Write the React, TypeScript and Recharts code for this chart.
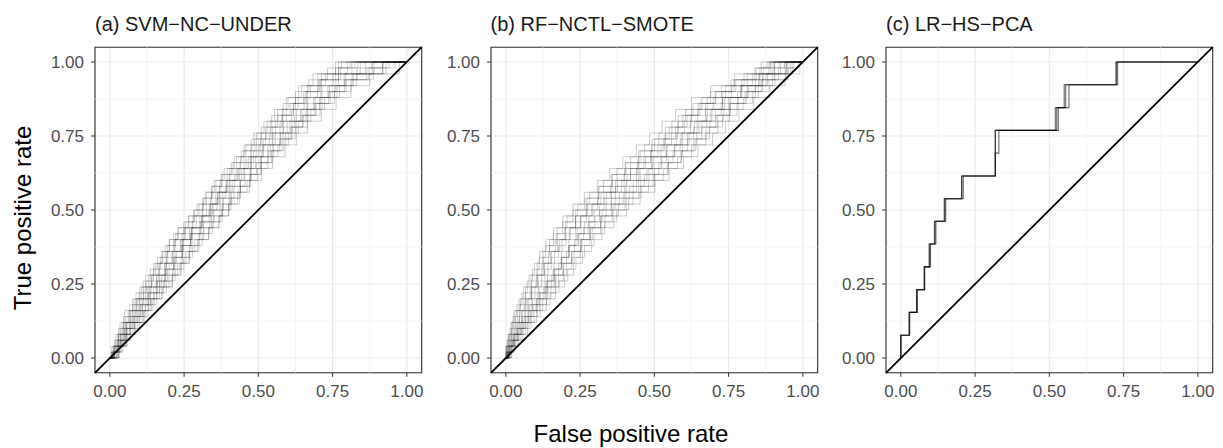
import { CartesianGrid, Line, LineChart, ReferenceArea, ReferenceLine, XAxis, YAxis } from "recharts";

const FONT = "'Liberation Sans', Arial, Helvetica, sans-serif";

// tpr levels reached at each step (two sets of bootstrap test splits)
const TPR_STEPS = [
  0, 0.04, 0.08, 0.12, 0.16, 0.2, 0.24, 0.28, 0.32, 0.36, 0.4, 0.44, 0.48, 0.52, 0.56, 0.6, 0.64, 0.68,
  0.72, 0.76, 0.8, 0.84, 0.88, 0.92, 0.96, 1,
];
const TPR_STEPS_ALT = [
  0, 0.02, 0.06, 0.1, 0.14, 0.18, 0.22, 0.26, 0.3, 0.34, 0.38, 0.42, 0.46, 0.5, 0.54, 0.58, 0.62, 0.66,
  0.7, 0.74, 0.78, 0.82, 0.86, 0.9, 0.94, 0.98, 1,
];

// (a) SVM-NC-UNDER: fpr at which each curve climbs to the matching tpr level
const SVM_FPR = [
  [0, 0.006, 0.02, 0.034, 0.05, 0.077, 0.101, 0.12, 0.148, 0.175, 0.2, 0.228, 0.266, 0.3, 0.325, 0.357, 0.395, 0.427, 0.458, 0.494, 0.53, 0.565, 0.6, 0.646, 0.7, 0.77],
  [0, 0.03, 0.056, 0.085, 0.113, 0.14, 0.174, 0.21, 0.236, 0.266, 0.295, 0.332, 0.368, 0.4, 0.437, 0.47, 0.511, 0.548, 0.59, 0.629, 0.665, 0.712, 0.762, 0.812, 0.875, 0.975],
  [0, 0.022, 0.04, 0.058, 0.088, 0.11, 0.136, 0.168, 0.19, 0.22, 0.245, 0.275, 0.314, 0.344, 0.37, 0.405, 0.444, 0.475, 0.515, 0.549, 0.585, 0.628, 0.666, 0.714, 0.77, 0.86],
  [0, 0.014, 0.03, 0.05, 0.07, 0.092, 0.12, 0.142, 0.168, 0.195, 0.217, 0.25, 0.28, 0.313, 0.343, 0.371, 0.404, 0.44, 0.478, 0.509, 0.54, 0.581, 0.625, 0.665, 0.712, 0.8],
  [0, 0.026, 0.05, 0.07, 0.101, 0.13, 0.158, 0.185, 0.216, 0.245, 0.273, 0.303, 0.342, 0.378, 0.406, 0.44, 0.476, 0.51, 0.551, 0.592, 0.627, 0.667, 0.714, 0.765, 0.82, 0.918],
  [0, 0.016, 0.035, 0.054, 0.078, 0.1, 0.128, 0.157, 0.186, 0.211, 0.24, 0.274, 0.31, 0.347, 0.38, 0.412, 0.452, 0.49, 0.532, 0.575, 0.614, 0.66, 0.706, 0.757, 0.816, 0.92],
  [0, 0.024, 0.045, 0.067, 0.094, 0.119, 0.147, 0.174, 0.2, 0.225, 0.248, 0.277, 0.31, 0.338, 0.364, 0.394, 0.425, 0.459, 0.493, 0.525, 0.558, 0.594, 0.634, 0.675, 0.726, 0.815],
  [0, 0.01, 0.026, 0.041, 0.062, 0.082, 0.106, 0.131, 0.154, 0.178, 0.201, 0.231, 0.264, 0.294, 0.321, 0.351, 0.385, 0.419, 0.452, 0.485, 0.519, 0.555, 0.594, 0.636, 0.684, 0.76],
  [0, 0.029, 0.053, 0.078, 0.108, 0.136, 0.168, 0.199, 0.228, 0.256, 0.286, 0.317, 0.35, 0.38, 0.41, 0.44, 0.473, 0.506, 0.54, 0.573, 0.606, 0.647, 0.691, 0.739, 0.794, 0.89],
  [0, 0.018, 0.037, 0.056, 0.082, 0.105, 0.132, 0.159, 0.185, 0.209, 0.237, 0.268, 0.303, 0.335, 0.363, 0.395, 0.43, 0.466, 0.502, 0.537, 0.573, 0.612, 0.654, 0.699, 0.752, 0.843],
  [0, 0.032, 0.058, 0.084, 0.116, 0.145, 0.178, 0.21, 0.24, 0.269, 0.3, 0.333, 0.367, 0.4, 0.43, 0.462, 0.497, 0.532, 0.566, 0.601, 0.635, 0.677, 0.723, 0.773, 0.831, 0.93],
  [0, 0.013, 0.029, 0.046, 0.068, 0.089, 0.114, 0.14, 0.165, 0.19, 0.22, 0.254, 0.291, 0.325, 0.357, 0.392, 0.434, 0.477, 0.517, 0.557, 0.597, 0.642, 0.686, 0.734, 0.789, 0.883],
];
const SVM_FPR_ALT = [
  [0, 0.006, 0.02, 0.035, 0.054, 0.076, 0.098, 0.123, 0.147, 0.17, 0.194, 0.222, 0.254, 0.285, 0.314, 0.343, 0.375, 0.409, 0.443, 0.476, 0.51, 0.545, 0.584, 0.625, 0.67, 0.733, 0.78],
  [0, 0.014, 0.04, 0.065, 0.092, 0.12, 0.15, 0.181, 0.211, 0.24, 0.268, 0.3, 0.336, 0.371, 0.402, 0.435, 0.471, 0.509, 0.547, 0.586, 0.624, 0.665, 0.708, 0.757, 0.812, 0.887, 0.94],
  [0, 0.011, 0.033, 0.054, 0.078, 0.104, 0.131, 0.16, 0.188, 0.215, 0.242, 0.272, 0.307, 0.34, 0.371, 0.402, 0.437, 0.473, 0.51, 0.547, 0.583, 0.622, 0.664, 0.71, 0.761, 0.832, 0.883],
  [0, 0.008, 0.026, 0.044, 0.065, 0.088, 0.113, 0.139, 0.165, 0.19, 0.215, 0.244, 0.277, 0.31, 0.339, 0.369, 0.402, 0.438, 0.473, 0.508, 0.543, 0.579, 0.619, 0.663, 0.711, 0.777, 0.826],
  [0, 0.016, 0.044, 0.07, 0.099, 0.128, 0.158, 0.19, 0.22, 0.249, 0.279, 0.311, 0.345, 0.378, 0.408, 0.44, 0.474, 0.509, 0.544, 0.58, 0.613, 0.65, 0.69, 0.737, 0.79, 0.865, 0.918],
  [0, 0.004, 0.015, 0.029, 0.046, 0.066, 0.088, 0.112, 0.136, 0.16, 0.186, 0.215, 0.249, 0.282, 0.313, 0.344, 0.378, 0.415, 0.451, 0.488, 0.525, 0.565, 0.607, 0.653, 0.703, 0.77, 0.835],
  [0, 0.012, 0.036, 0.058, 0.083, 0.11, 0.137, 0.167, 0.194, 0.219, 0.244, 0.272, 0.304, 0.334, 0.361, 0.389, 0.42, 0.452, 0.484, 0.516, 0.548, 0.582, 0.618, 0.66, 0.707, 0.76, 0.81],
  [0, 0.01, 0.029, 0.049, 0.072, 0.098, 0.126, 0.156, 0.186, 0.215, 0.244, 0.277, 0.315, 0.35, 0.383, 0.418, 0.455, 0.494, 0.533, 0.572, 0.61, 0.65, 0.694, 0.742, 0.796, 0.872, 0.96],
];

// (b) RF-NCTL-SMOTE
const RF_FPR = [
  [0, 0, 0.007, 0.017, 0.027, 0.044, 0.06, 0.078, 0.096, 0.114, 0.135, 0.16, 0.192, 0.226, 0.264, 0.308, 0.35, 0.394, 0.439, 0.484, 0.526, 0.571, 0.625, 0.69, 0.77, 0.86],
  [0, 0.02, 0.043, 0.073, 0.103, 0.136, 0.168, 0.198, 0.228, 0.258, 0.289, 0.324, 0.364, 0.406, 0.452, 0.502, 0.55, 0.598, 0.647, 0.696, 0.74, 0.785, 0.835, 0.89, 0.94, 0.99],
  [0, 0.01, 0.026, 0.044, 0.066, 0.09, 0.112, 0.14, 0.162, 0.188, 0.212, 0.24, 0.28, 0.316, 0.356, 0.405, 0.452, 0.496, 0.54, 0.59, 0.635, 0.678, 0.73, 0.79, 0.855, 0.925],
  [0, 0.005, 0.016, 0.031, 0.046, 0.067, 0.087, 0.108, 0.129, 0.15, 0.174, 0.201, 0.235, 0.271, 0.311, 0.357, 0.4, 0.445, 0.491, 0.537, 0.58, 0.625, 0.678, 0.74, 0.813, 0.893],
  [0, 0.015, 0.034, 0.059, 0.084, 0.113, 0.141, 0.168, 0.195, 0.222, 0.251, 0.283, 0.321, 0.361, 0.405, 0.454, 0.5, 0.547, 0.595, 0.643, 0.687, 0.732, 0.783, 0.84, 0.898, 0.958],
  [0, 0.002, 0.011, 0.024, 0.039, 0.061, 0.082, 0.105, 0.129, 0.154, 0.181, 0.214, 0.252, 0.293, 0.339, 0.39, 0.44, 0.491, 0.543, 0.595, 0.644, 0.694, 0.751, 0.815, 0.881, 0.95],
  [0, 0.018, 0.039, 0.067, 0.095, 0.124, 0.152, 0.178, 0.204, 0.23, 0.256, 0.285, 0.319, 0.355, 0.395, 0.44, 0.482, 0.525, 0.568, 0.611, 0.65, 0.69, 0.737, 0.792, 0.851, 0.9],
  [0, 0.007, 0.02, 0.037, 0.054, 0.076, 0.098, 0.12, 0.142, 0.164, 0.189, 0.217, 0.252, 0.289, 0.33, 0.376, 0.42, 0.465, 0.512, 0.558, 0.601, 0.646, 0.698, 0.76, 0.83, 0.905],
  [0, 0.013, 0.03, 0.052, 0.075, 0.102, 0.128, 0.153, 0.178, 0.204, 0.231, 0.262, 0.3, 0.338, 0.382, 0.429, 0.475, 0.522, 0.569, 0.617, 0.66, 0.705, 0.756, 0.815, 0.876, 0.94],
  [0, 0.011, 0.028, 0.05, 0.075, 0.104, 0.133, 0.162, 0.192, 0.222, 0.254, 0.291, 0.334, 0.379, 0.428, 0.48, 0.53, 0.578, 0.626, 0.673, 0.714, 0.753, 0.799, 0.85, 0.906, 0.964],
  [0, 0.001, 0.009, 0.02, 0.031, 0.049, 0.066, 0.085, 0.105, 0.125, 0.147, 0.173, 0.206, 0.242, 0.282, 0.329, 0.374, 0.42, 0.467, 0.515, 0.559, 0.605, 0.66, 0.726, 0.802, 0.886],
  [0, 0.01, 0.023, 0.039, 0.054, 0.072, 0.087, 0.102, 0.122, 0.143, 0.166, 0.197, 0.235, 0.276, 0.32, 0.37, 0.42, 0.471, 0.522, 0.574, 0.622, 0.672, 0.73, 0.795, 0.864, 0.945],
];
const RF_FPR_ALT = [
  [0, 0.002, 0.007, 0.019, 0.032, 0.048, 0.067, 0.086, 0.106, 0.126, 0.147, 0.171, 0.201, 0.235, 0.273, 0.314, 0.358, 0.402, 0.447, 0.493, 0.537, 0.58, 0.63, 0.689, 0.758, 0.838, 0.88],
  [0, 0.009, 0.027, 0.051, 0.078, 0.106, 0.137, 0.166, 0.194, 0.222, 0.251, 0.283, 0.319, 0.359, 0.401, 0.448, 0.496, 0.544, 0.591, 0.64, 0.685, 0.73, 0.778, 0.831, 0.886, 0.943, 0.97],
  [0, 0.006, 0.02, 0.04, 0.062, 0.085, 0.112, 0.137, 0.163, 0.188, 0.214, 0.243, 0.277, 0.315, 0.355, 0.4, 0.447, 0.493, 0.54, 0.587, 0.632, 0.676, 0.725, 0.78, 0.84, 0.905, 0.938],
  [0, 0.004, 0.013, 0.028, 0.045, 0.064, 0.087, 0.109, 0.131, 0.153, 0.177, 0.203, 0.235, 0.271, 0.309, 0.352, 0.398, 0.443, 0.488, 0.535, 0.579, 0.623, 0.672, 0.729, 0.794, 0.867, 0.905],
  [0, 0.01, 0.03, 0.056, 0.085, 0.116, 0.149, 0.179, 0.208, 0.236, 0.265, 0.297, 0.333, 0.372, 0.413, 0.456, 0.502, 0.547, 0.59, 0.634, 0.674, 0.712, 0.755, 0.805, 0.86, 0.918, 0.945],
  [0, 0, 0.004, 0.013, 0.024, 0.037, 0.054, 0.072, 0.09, 0.112, 0.134, 0.16, 0.191, 0.226, 0.266, 0.311, 0.357, 0.404, 0.452, 0.501, 0.55, 0.596, 0.648, 0.707, 0.774, 0.855, 0.92],
  [0, 0.007, 0.023, 0.044, 0.067, 0.091, 0.117, 0.141, 0.165, 0.188, 0.211, 0.236, 0.265, 0.297, 0.331, 0.369, 0.408, 0.448, 0.488, 0.53, 0.571, 0.61, 0.654, 0.705, 0.768, 0.843, 0.89],
  [0, 0.005, 0.017, 0.035, 0.056, 0.079, 0.106, 0.132, 0.159, 0.186, 0.213, 0.245, 0.283, 0.324, 0.368, 0.416, 0.466, 0.515, 0.563, 0.612, 0.66, 0.707, 0.755, 0.81, 0.865, 0.95, 0.985],
];

// (c) LR-HS-PCA: [fpr, tpr] points where each curve steps up
const LR_CURVES = [
  [[0, 0], [0, 0.077], [0.028, 0.154], [0.053, 0.231], [0.078, 0.308], [0.095, 0.385], [0.113, 0.462], [0.146, 0.538], [0.205, 0.615], [0.318, 0.769], [0.52, 0.846], [0.55, 0.923], [0.725, 1], [1, 1]],
  [[0, 0], [0, 0.077], [0.03, 0.154], [0.056, 0.231], [0.08, 0.308], [0.1, 0.385], [0.118, 0.462], [0.151, 0.538], [0.21, 0.615], [0.318, 0.692], [0.33, 0.769], [0.53, 0.846], [0.566, 0.923], [0.725, 1], [1, 1]],
  [[0, 0], [0, 0.077], [0.028, 0.154], [0.053, 0.231], [0.08, 0.308], [0.097, 0.385], [0.115, 0.462], [0.148, 0.538], [0.205, 0.615], [0.318, 0.769], [0.525, 0.846], [0.555, 0.923], [0.73, 1], [1, 1]],
];

const TICKS = [0, 0.25, 0.5, 0.75, 1];
const MINOR_TICKS = [0.125, 0.375, 0.625, 0.875];
const DOMAIN: [number, number] = [-0.05, 1.05];
const TITLES = ["(a) SVM\u2212NC\u2212UNDER", "(b) RF\u2212NCTL\u2212SMOTE", "(c) LR\u2212HS\u2212PCA"];

type Pt = { fpr: number; tpr: number };

const toCurve = (levels: number[]) => (fprs: number[]): Pt[] =>
  fprs.map((f, i) => ({ fpr: f, tpr: levels[i] })).concat({ fpr: 1, tpr: 1 });

const svmCurves = [...SVM_FPR.map(toCurve(TPR_STEPS)), ...SVM_FPR_ALT.map(toCurve(TPR_STEPS_ALT))];
const rfCurves = [...RF_FPR.map(toCurve(TPR_STEPS)), ...RF_FPR_ALT.map(toCurve(TPR_STEPS_ALT))];
const lrCurves = LR_CURVES.map((c) => c.map(([fpr, tpr]) => ({ fpr, tpr })));

const PLOT_W = 326.7;
const PLOT_TOP = 47.2;
const PLOT_BOTTOM = 372.8;
const Y_AXIS_W = 60;
const X_AXIS_H = 30;

function RocPanel({
  plotLeft,
  curves,
  opacity,
  lineWidth,
}: {
  plotLeft: number;
  curves: Pt[][];
  opacity: number;
  lineWidth: number;
}) {
  const tickStyle = { fill: "#4D4D4D", fontSize: 17, fontFamily: FONT };
  return (
    <div style={{ position: "absolute", left: plotLeft - Y_AXIS_W, top: 0 }}>
      <LineChart
        width={Y_AXIS_W + PLOT_W + 10}
        height={448}
        margin={{ top: PLOT_TOP, right: 10, left: 0, bottom: 448 - PLOT_BOTTOM - X_AXIS_H }}
      >
        <CartesianGrid stroke="#EBEBEB" strokeWidth={1.2} />
        {MINOR_TICKS.map((v) => (
          <ReferenceLine key={`mx${v}`} x={v} stroke="#EFEFEF" strokeWidth={0.7} />
        ))}
        {MINOR_TICKS.map((v) => (
          <ReferenceLine key={`my${v}`} y={v} stroke="#EFEFEF" strokeWidth={0.7} />
        ))}
        <XAxis
          type="number"
          dataKey="fpr"
          domain={DOMAIN}
          allowDataOverflow
          ticks={TICKS}
          tickFormatter={(v: number) => v.toFixed(2)}
          tick={tickStyle}
          tickLine={{ stroke: "#333333" }}
          tickSize={4}
          tickMargin={8}
          axisLine={false}
          height={X_AXIS_H}
        />
        <YAxis
          type="number"
          dataKey="tpr"
          domain={DOMAIN}
          allowDataOverflow
          ticks={TICKS}
          tickFormatter={(v: number) => v.toFixed(2)}
          tick={tickStyle}
          tickLine={{ stroke: "#333333" }}
          tickSize={4}
          tickMargin={7}
          axisLine={false}
          width={Y_AXIS_W}
        />
        {curves.map((c, i) => (
          <Line
            key={i}
            data={c}
            dataKey="tpr"
            type="stepAfter"
            dot={false}
            activeDot={false}
            stroke="#000000"
            strokeOpacity={opacity}
            strokeWidth={lineWidth}
            isAnimationActive={false}
          />
        ))}
        <ReferenceLine
          segment={[
            { x: DOMAIN[0], y: DOMAIN[0] },
            { x: DOMAIN[1], y: DOMAIN[1] },
          ]}
          stroke="#000000"
          strokeWidth={1.8}
        />
        <ReferenceArea
          x1={DOMAIN[0]}
          x2={DOMAIN[1]}
          y1={DOMAIN[0]}
          y2={DOMAIN[1]}
          fill="none"
          fillOpacity={0}
          stroke="#333333"
          strokeWidth={1.1}
        />
      </LineChart>
    </div>
  );
}

const PANEL_LEFTS = [95, 490.5, 886];

export default function App() {
  return (
    <div
      style={{
        position: "absolute",
        left: 0,
        top: 0,
        width: 1223,
        height: 448,
        background: "#ffffff",
        fontFamily: FONT,
        overflow: "hidden",
      }}
    >
      <svg width={1223} height={448} style={{ position: "absolute", left: 0, top: 0 }}>
        {TITLES.map((t, i) => (
          <text key={t} x={PANEL_LEFTS[i]} y={31} fontSize={20} fill="#1A1A1A" fontFamily={FONT}>
            {t}
          </text>
        ))}
        <text x={631} y={442} fontSize={24} fill="#000000" textAnchor="middle" fontFamily={FONT}>
          False positive rate
        </text>
        <text
          x={31}
          y={218}
          fontSize={24}
          fill="#000000"
          textAnchor="middle"
          fontFamily={FONT}
          transform="rotate(-90 31 218)"
        >
          True positive rate
        </text>
      </svg>
      <RocPanel plotLeft={PANEL_LEFTS[0]} curves={svmCurves} opacity={0.28} lineWidth={0.7} />
      <RocPanel plotLeft={PANEL_LEFTS[1]} curves={rfCurves} opacity={0.28} lineWidth={0.7} />
      <RocPanel plotLeft={PANEL_LEFTS[2]} curves={lrCurves} opacity={0.6} lineWidth={1.1} />
    </div>
  );
}
